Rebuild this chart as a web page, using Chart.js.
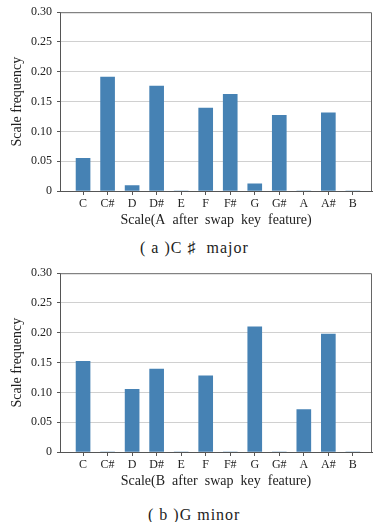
<!DOCTYPE html>
<html>
<head>
<meta charset="utf-8">
<script src="https://cdn.jsdelivr.net/npm/chart.js@4/dist/chart.umd.min.js"></script>
<style>
  html, body { margin: 0; padding: 0; background: #fff; }
  body { width: 375px; height: 522px; position: relative; overflow: hidden; }
  .box { position: absolute; left: 0; width: 375px; height: 232px; }
  .cap { position: absolute; font-family: "Liberation Serif", "DejaVu Serif", serif; font-size: 16px; line-height: 16px; letter-spacing: 1px; color: #222; white-space: pre; }
</style>
</head>
<body>
<div class="box" style="top:0"><canvas id="chartA" width="375" height="232"></canvas></div>
<div class="cap" style="top:240px; left:140px">( a )C ♯  major</div>
<div class="box" style="top:261px"><canvas id="chartB" width="375" height="232"></canvas></div>
<div class="cap" style="top:507px; left:148px">( b )G minor</div>
<script>
// 12 pitch classes on the x axis
const scales12 = ['C', 'C#', 'D', 'D#', 'E', 'F', 'F#', 'G', 'G#', 'A', 'A#', 'B'];
// scale frequency
const freqCsharpMajor = [0.055, 0.191, 0.009, 0.176, 0, 0.139, 0.162, 0.012, 0.127, 0, 0.131, 0];
const freqGMinor = [0.152, 0, 0.105, 0.139, 0, 0.128, 0, 0.210, 0, 0.071, 0.198, 0];
const yTicks = [0, 0.05, 0.10, 0.15, 0.20, 0.25, 0.30];

const serif = '"Liberation Serif", "DejaVu Serif", serif';

// matplotlib-like box: draw top and right spines
const boxPlugin = {
    id: 'box',
    afterDraw(chart) {
        const a = chart.chartArea;
        const ctx = chart.ctx;
        ctx.save();
        ctx.strokeStyle = '#666';
        ctx.lineWidth = 1;
        ctx.beginPath();
        ctx.moveTo(a.left, a.top + 0.5);
        ctx.lineTo(a.right - 0.5, a.top + 0.5);
        ctx.lineTo(a.right - 0.5, a.bottom);
        ctx.stroke();
        ctx.restore();
    }
};

function makeChart(id, values, xTitle) {
    return new Chart(document.getElementById(id), {
        type: 'bar',
        data: {
            datasets: [{
                data: scales12.map((s, i) => ({ x: i, y: values[i] })),
                backgroundColor: '#4682b4',
                barThickness: 14
            }]
        },
        options: {
            responsive: false,
            animation: false,
            layout: { padding: { top: 10, right: 3, left: 0, bottom: 0 } },
            plugins: { legend: { display: false }, tooltip: { enabled: false } },
            scales: {
                x: {
                    type: 'linear',
                    offset: false,
                    min: -0.94,
                    max: 11.78,
                    afterBuildTicks: s => { s.ticks = scales12.map((c, i) => ({ value: i })); },
                    afterFit: s => { s.height = 41; },
                    ticks: {
                        callback: v => scales12[v],
                        color: '#222',
                        font: { family: serif, size: 12 },
                        padding: 2,
                        maxRotation: 0,
                        autoSkip: false
                    },
                    grid: { offset: false, drawOnChartArea: false, drawTicks: true, tickLength: 4, tickColor: '#555' },
                    border: { color: '#555', width: 1 },
                    title: {
                        display: true,
                        text: xTitle,
                        color: '#222',
                        font: { family: serif, size: 14 },
                        padding: { top: 0, bottom: 3 }
                    }
                },
                y: {
                    min: 0,
                    max: 0.3,
                    afterBuildTicks: s => { s.ticks = yTicks.map(v => ({ value: v })); },
                    afterFit: s => { s.width = 60; },
                    ticks: {
                        callback: v => v === 0 ? '0' : v.toFixed(2),
                        color: '#222',
                        font: { family: serif, size: 12 },
                        padding: 5
                    },
                    grid: {
                        color: c => (c.tick && c.tick.value > 0.001 && c.tick.value < 0.299) ? '#d0d0d0' : 'rgba(0,0,0,0)',
                        tickColor: '#555',
                        tickLength: 3,
                        tickBorderDash: [],
                        borderDash: [4, 3]
                    },
                    border: { color: '#555', width: 1, dash: [] },
                    title: {
                        display: true,
                        text: 'Scale frequency',
                        color: '#222',
                        font: { family: serif, size: 14 },
                        padding: { top: 9, bottom: 0 }
                    }
                }
            }
        },
        plugins: [boxPlugin]
    });
}

makeChart('chartA', freqCsharpMajor, 'Scale(A  after  swap  key  feature)');
makeChart('chartB', freqGMinor, 'Scale(B  after  swap  key  feature)');
</script>
</body>
</html>
